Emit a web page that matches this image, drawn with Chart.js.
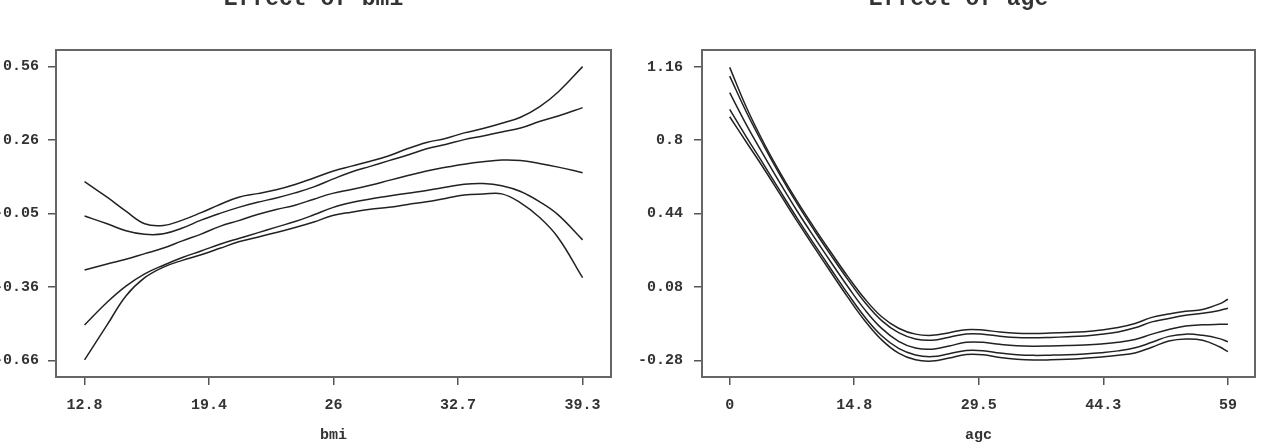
<!DOCTYPE html>
<html>
<head>
<meta charset="utf-8">
<script src="https://cdn.jsdelivr.net/npm/chart.js@4.4.1/dist/chart.umd.min.js"></script>
<style>
  html, body { margin: 0; padding: 0; background: #fff; }
  #bmiChart { position: absolute; left: 0; top: 0; }
  #ageChart { position: absolute; left: 630px; top: 0; }
</style>
</head>
<body>
<canvas id="bmiChart" width="640" height="448"></canvas>
<canvas id="ageChart" width="633" height="448"></canvas>
<script>
// data block - bmi panel
const bmi = [12.8, 14, 15, 16, 17, 18, 19, 20, 21, 22, 23, 24, 25, 26, 27, 28, 29, 30, 31, 32, 33, 34, 35, 36, 37, 38, 39.3];
const bmiUpperOuter = [0.083, 0.018, -0.040, -0.092, -0.099, -0.077, -0.046, -0.012, 0.018, 0.033, 0.049, 0.071, 0.098, 0.126, 0.147, 0.167, 0.190, 0.220, 0.245, 0.262, 0.285, 0.303, 0.325, 0.350, 0.393, 0.455, 0.560];
const bmiUpperInner = [-0.060, -0.092, -0.121, -0.136, -0.134, -0.110, -0.077, -0.049, -0.024, -0.003, 0.015, 0.036, 0.061, 0.093, 0.123, 0.146, 0.170, 0.193, 0.219, 0.237, 0.257, 0.272, 0.289, 0.305, 0.332, 0.355, 0.390];
const bmiEffect = [-0.284, -0.259, -0.239, -0.216, -0.193, -0.163, -0.135, -0.103, -0.079, -0.054, -0.033, -0.015, 0.010, 0.034, 0.050, 0.068, 0.088, 0.108, 0.127, 0.142, 0.155, 0.165, 0.172, 0.170, 0.158, 0.143, 0.120];
const bmiLowerInner = [-0.512, -0.418, -0.351, -0.300, -0.264, -0.232, -0.205, -0.177, -0.153, -0.130, -0.106, -0.083, -0.055, -0.025, -0.004, 0.011, 0.023, 0.035, 0.046, 0.059, 0.072, 0.075, 0.066, 0.042, 0.000, -0.055, -0.159];
const bmiLowerOuter = [-0.657, -0.512, -0.392, -0.316, -0.272, -0.244, -0.221, -0.194, -0.167, -0.148, -0.128, -0.108, -0.085, -0.058, -0.044, -0.032, -0.024, -0.012, -0.001, 0.013, 0.027, 0.031, 0.032, -0.005, -0.065, -0.150, -0.316];
const bmiXTicks = [12.8, 19.425, 26.05, 32.675, 39.3];
const bmiXLabels = ['12.8', '19.4', '26', '32.7', '39.3'];
const bmiYTicks = [-0.66, -0.355, -0.05, 0.255, 0.56];
const bmiYLabels = ['-0.66', '-0.36', '-0.05', '0.26', '0.56'];

// data block - age panel
const age = [0, 2, 4, 6, 8, 10, 12, 14, 16, 18, 20, 22, 24, 26, 28, 30, 32, 34, 36, 38, 40, 42, 44, 46, 48, 50, 52, 54, 56, 58, 59];
const ageUpperOuter = [1.157, 0.959, 0.790, 0.639, 0.500, 0.372, 0.250, 0.132, 0.023, -0.065, -0.121, -0.150, -0.156, -0.143, -0.128, -0.130, -0.140, -0.146, -0.147, -0.145, -0.142, -0.138, -0.130, -0.118, -0.098, -0.068, -0.051, -0.038, -0.029, -0.002, 0.021];
const ageUpperInner = [1.114, 0.936, 0.776, 0.627, 0.488, 0.359, 0.236, 0.117, 0.006, -0.084, -0.143, -0.174, -0.180, -0.165, -0.149, -0.150, -0.160, -0.167, -0.168, -0.166, -0.163, -0.159, -0.151, -0.139, -0.119, -0.090, -0.073, -0.058, -0.048, -0.034, -0.023];
const ageEffect = [1.033, 0.874, 0.728, 0.587, 0.452, 0.325, 0.202, 0.082, -0.030, -0.122, -0.185, -0.218, -0.224, -0.208, -0.190, -0.190, -0.200, -0.207, -0.209, -0.208, -0.206, -0.203, -0.198, -0.190, -0.176, -0.150, -0.127, -0.110, -0.104, -0.102, -0.102];
const ageLowerInner = [0.951, 0.814, 0.683, 0.549, 0.417, 0.291, 0.168, 0.047, -0.066, -0.158, -0.220, -0.252, -0.260, -0.246, -0.230, -0.231, -0.243, -0.251, -0.254, -0.253, -0.251, -0.247, -0.241, -0.232, -0.217, -0.190, -0.161, -0.150, -0.156, -0.172, -0.187];
const ageLowerOuter = [0.915, 0.789, 0.664, 0.533, 0.402, 0.276, 0.152, 0.030, -0.084, -0.178, -0.243, -0.276, -0.282, -0.267, -0.250, -0.251, -0.264, -0.273, -0.277, -0.276, -0.273, -0.268, -0.262, -0.254, -0.242, -0.214, -0.184, -0.174, -0.180, -0.212, -0.236];
const ageXTicks = [0, 14.75, 29.5, 44.25, 59];
const ageXLabels = ['0', '14.8', '29.5', '44.3', '59'];
const ageYTicks = [-0.28, 0.08, 0.44, 0.8, 1.16];
const ageYLabels = ['-0.28', '0.08', '0.44', '0.8', '1.16'];

const monoFont = '"Liberation Mono", "Courier New", monospace';
const inkColor = '#333';

// frame + cut-off title plugin
const frame = {
    id: 'frame',
    afterDraw(chart, args, options) {
        const { ctx, chartArea: { left, top, right, bottom } } = chart;
        ctx.save();
        ctx.strokeStyle = '#666';
        ctx.lineWidth = 2;
        ctx.strokeRect(left, top, right - left, bottom - top);
        ctx.font = 'bold 23px ' + monoFont;
        ctx.fillStyle = inkColor;
        ctx.textAlign = 'center';
        ctx.textBaseline = 'alphabetic';
        ctx.fillText(options.text, (left + right) / 2 - 20, 5);
        ctx.restore();
    }
};

function makeChart(id, xs, series, p) {
    const tickFont = { family: monoFont, size: 15, weight: 'bold' };
    return new Chart(document.getElementById(id), {
        type: 'line',
        data: {
            datasets: series.map(s => ({
                data: xs.map((x, i) => ({ x: x, y: s[i] })),
                borderColor: '#222',
                borderWidth: 1.5,
                pointRadius: 0,
                tension: 0.4,
                fill: false
            }))
        },
        options: {
            responsive: false,
            animation: false,
            layout: { padding: { top: 50, right: p.padRight, left: 0, bottom: 0 } },
            plugins: {
                legend: { display: false },
                tooltip: { enabled: false },
                frame: { text: p.title }
            },
            scales: {
                x: {
                    type: 'linear',
                    min: p.xMin,
                    max: p.xMax,
                    afterBuildTicks: s => { s.ticks = p.xTicks.map(v => ({ value: v })); },
                    afterFit: s => { s.height = 71; },
                    ticks: {
                        callback: (v, i) => p.xLabels[i],
                        font: tickFont,
                        color: inkColor,
                        padding: 11,
                        maxRotation: 0,
                        autoSkip: false
                    },
                    grid: { drawOnChartArea: false, tickLength: 8, color: '#555', lineWidth: 1.5 },
                    border: { display: false },
                    title: {
                        display: true,
                        text: p.xTitle,
                        font: tickFont,
                        color: inkColor,
                        padding: { top: 0, bottom: 4 }
                    }
                },
                y: {
                    type: 'linear',
                    min: p.yMin,
                    max: p.yMax,
                    afterBuildTicks: s => { s.ticks = p.yTicks.map(v => ({ value: v })); },
                    afterFit: s => { s.width = p.yWidth; },
                    ticks: {
                        callback: (v, i) => p.yLabels[i],
                        font: tickFont,
                        color: inkColor,
                        padding: p.yPad,
                        autoSkip: false
                    },
                    grid: { drawOnChartArea: false, tickLength: 8, color: '#555', lineWidth: 1.5 },
                    border: { display: false }
                }
            }
        },
        plugins: [frame]
    });
}

//render init block
makeChart('bmiChart', bmi,
    [bmiUpperOuter, bmiUpperInner, bmiEffect, bmiLowerInner, bmiLowerOuter], {
        title: 'Effect of bmi', xTitle: 'bmi',
        xMin: 11.28, xMax: 40.81, yMin: -0.728, yMax: 0.629,
        xTicks: bmiXTicks, xLabels: bmiXLabels, yTicks: bmiYTicks, yLabels: bmiYLabels,
        yWidth: 56, yPad: 9, padRight: 29
    });

makeChart('ageChart', age,
    [ageUpperOuter, ageUpperInner, ageEffect, ageLowerInner, ageLowerOuter], {
        title: 'Effect of age', xTitle: 'agc',
        xMin: -3.28, xMax: 62.21, yMin: -0.36, yMax: 1.242,
        xTicks: ageXTicks, xLabels: ageXLabels, yTicks: ageYTicks, yLabels: ageYLabels,
        yWidth: 72, yPad: 11, padRight: 8
    });
</script>
</body>
</html>
